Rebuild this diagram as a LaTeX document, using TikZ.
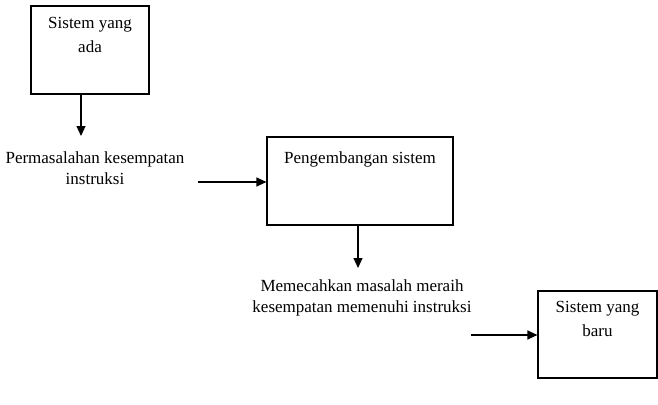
\documentclass[tikz,border=0pt]{standalone}
\usepackage{fontspec}
\setmainfont{Liberation Serif}
\usetikzlibrary{arrows.meta}
\tikzset{
  box/.style={draw, line width=1.2pt, inner sep=0pt},
  boxtext/.style={anchor=north, align=center, inner sep=0pt,
    font=\fontsize{17}{24}\selectfont},
  freetext/.style={align=center, inner sep=0pt,
    font=\fontsize{17}{21}\selectfont},
  arr/.style={line width=1.2pt, -{Triangle[length=10pt,width=9pt]}}
}
\begin{document}
\begin{tikzpicture}[x=1pt, y=-1pt]
  \useasboundingbox (0,0) rectangle (658,404);
  % boxes
  \node [box, minimum width=118pt, minimum height=88pt,
    label={[boxtext, yshift=-12pt]north:Sistem yang\\ada}] (lama) at (90,50) {};
  \node [box, minimum width=186pt, minimum height=88pt,
    label={[boxtext, yshift=-15pt]north:Pengembangan sistem}] (kembang) at (360,181) {};
  \node [box, minimum width=119pt, minimum height=87pt,
    label={[boxtext, yshift=-11pt]north:Sistem yang\\baru}] (baru) at (597.5,334.5) {};
  % texts
  \node [freetext] (masalah) at (95,168) {Permasalahan kesempatan\\instruksi};
  \node [freetext] (pecah) at (362,298) {Memecahkan masalah meraih\\kesempatan memenuhi instruksi};
  % arrow ends
  \coordinate (a1) at (81,136);
  \coordinate (a2) at (198,182);
  \coordinate (a3) at (358,268);
  \coordinate (a4) at (471,335);
  \draw [arr] (lama.south -| a1) -- (a1);
  \draw [arr] (a2) -- (kembang.west |- a2);
  \draw [arr] (kembang.south -| a3) -- (a3);
  \draw [arr] (a4) -- (baru.west |- a4);
\end{tikzpicture}
\end{document}
